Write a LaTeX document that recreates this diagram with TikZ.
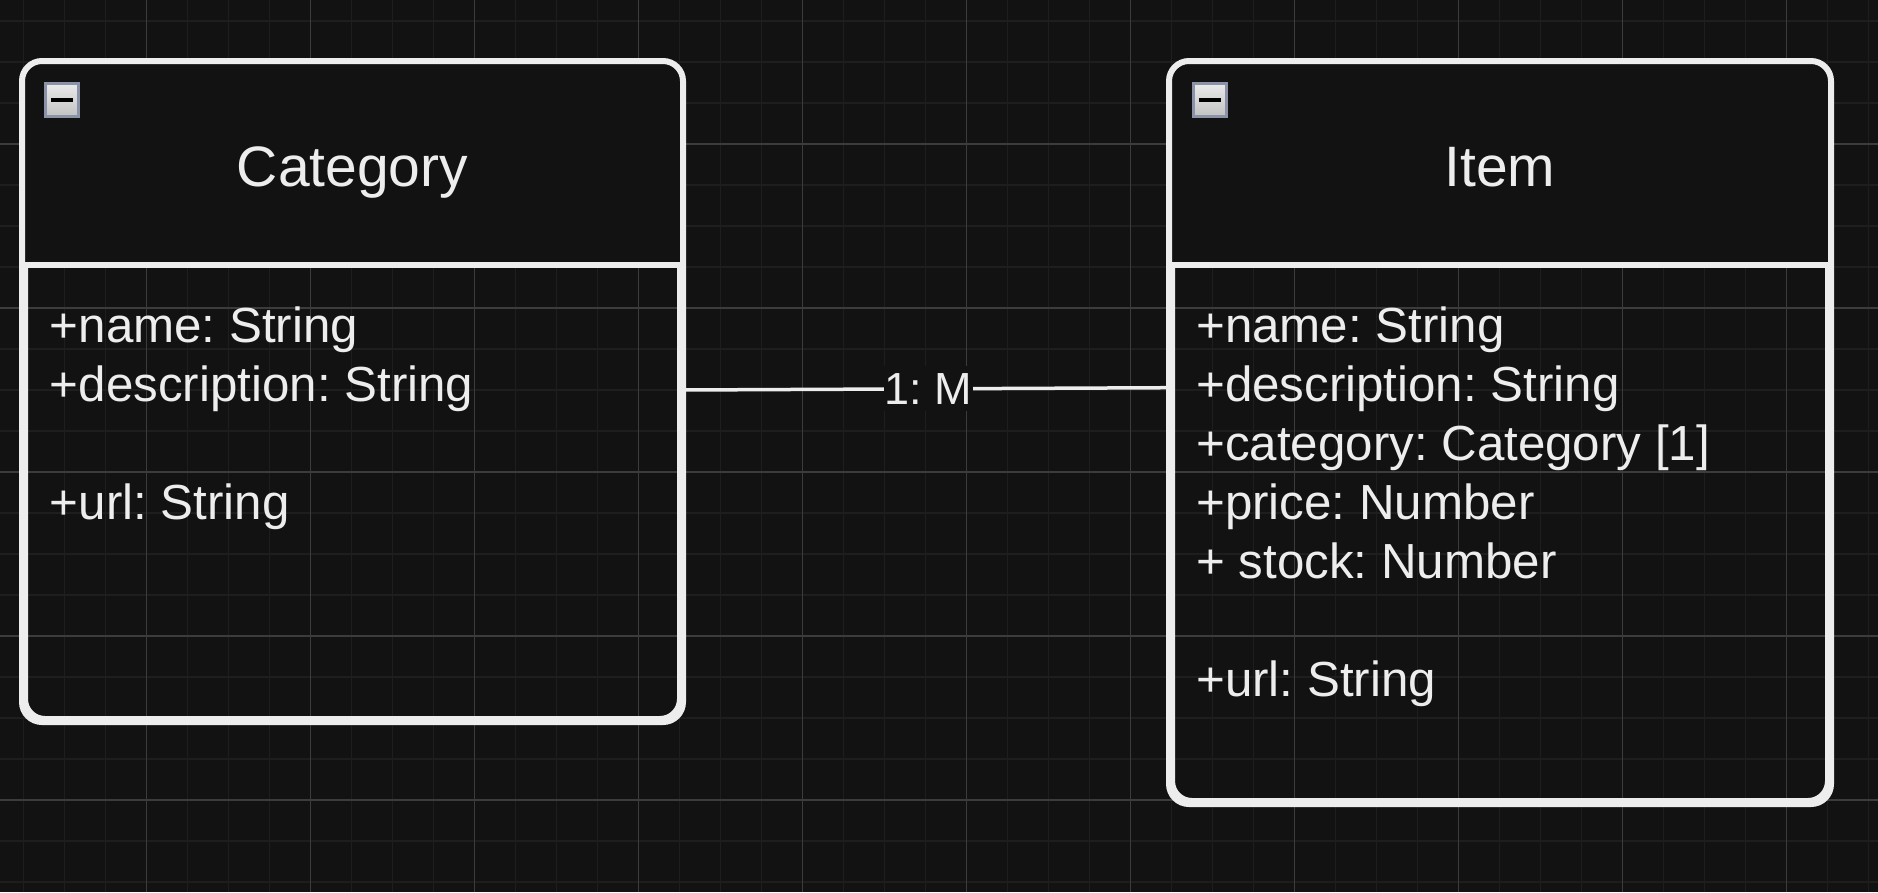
\documentclass[tikz,border=0pt]{standalone}
\usepackage{fontspec}
\setmainfont{Liberation Sans}
\frenchspacing
\definecolor{bg}{HTML}{121212}
\definecolor{minorc}{HTML}{1E1E1E}
\definecolor{majorc}{HTML}{3C3C3C}
\definecolor{ink}{HTML}{EDEDED}
\definecolor{iconborder}{HTML}{8A93A8}
\definecolor{iconhi}{HTML}{EAEAEA}
\definecolor{iconlo}{HTML}{C2C2C2}
\begin{document}
\frenchspacing
\begin{tikzpicture}[x=1pt,y=-1pt,
  gridminor/.style={draw=minorc, line width=1.6pt},
  gridmajor/.style={draw=majorc, line width=1.1pt},
  classbox/.style={draw=ink, line width=6pt, rounded corners=20pt, inner sep=0pt},
  headfill/.style={fill=bg},
  sepline/.style={draw=ink, line width=6pt},
  ttl/.style={text=ink, font=\fontsize{57pt}{68pt}\selectfont, anchor=base, inner sep=0pt},
  attr/.style={text=ink, font=\fontsize{49.3pt}{58pt}\selectfont, anchor=base west, inner sep=0pt},
  iconbox/.style={draw=iconborder, line width=3pt, top color=iconhi, bottom color=iconlo, minimum size=33pt, inner sep=0pt, text=black},
  conn/.style={draw=ink, line width=3.5pt},
  conlabel/.style={fill=bg, text=ink, font=\fontsize{45pt}{54pt}\selectfont, inner xsep=1pt, inner ysep=7pt}
]
\useasboundingbox (0,0) rectangle (1878,892);
\fill[bg] (0,0) rectangle (1878,892);
% grid
\foreach \i in {0,...,45} \draw[gridminor] ({23.5+41*\i},0) -- ({23.5+41*\i},892);
\foreach \j in {0,...,21} \draw[gridminor] (0,{21+41*\j}) -- (1878,{21+41*\j});
\foreach \i in {0,...,11} \draw[gridmajor] ({-17.5+164*\i},0) -- ({-17.5+164*\i},892);
\foreach \j in {0,...,5} \draw[gridmajor] (0,{-20+164*\j}) -- (1878,{-20+164*\j});

% class boxes
\node[classbox, minimum width=655pt, minimum height=655pt] (cat) at (352.5,391.5) {};
\node[classbox, minimum width=656pt, minimum height=737pt] (item) at (1500,432.5) {};

% header fills
\fill[headfill, rounded corners=20pt] (cat.north west) rectangle ([yshift=-204pt]cat.north east);
\fill[headfill] ([yshift=-180pt]cat.north west) rectangle ([yshift=-204pt]cat.north east);
\fill[headfill, rounded corners=20pt] (item.north west) rectangle ([yshift=-204pt]item.north east);
\fill[headfill] ([yshift=-180pt]item.north west) rectangle ([yshift=-204pt]item.north east);

% outlines again on top
\draw[classbox] (cat.north west) rectangle (cat.south east);
\draw[classbox] (item.north west) rectangle (item.south east);
\draw[sepline] ([yshift=-204pt]cat.north west) -- ([yshift=-204pt]cat.north east);
\draw[sepline] ([yshift=-204pt]item.north west) -- ([yshift=-204pt]item.north east);

% titles
\node[ttl] (cattitle) at (352.5,186.5) {Category};
\node[ttl] (itemtitle) at (1500,186.5) {Item};

% icons
\node[iconbox] (caticon) at (62,100) {\rule{22pt}{4pt}};
\node[iconbox] (itemicon) at (1210,100) {\rule{22pt}{4pt}};

% attributes
\node[attr] (ca1) at (49.7,342) {+name: String};
\node[attr] (ca2) at (49.7,401) {+description: String};
\node[attr] (ca3) at (49.7,519) {+url: String};

\node[attr] (ia1) at (1196,342) {+name: String};
\node[attr] (ia2) at (1196,401) {+description: String};
\node[attr] (ia3) at (1196,460) {+category: Category [1]};
\node[attr] (ia4) at (1196,519) {+price: Number};
\node[attr] (ia5) at (1196,578) {+ stock: Number};
\node[attr] (ia6) at (1196,696) {+url: String};

% connector
\draw[conn] ([yshift=1.5pt]cat.east) -- node[conlabel, pos=0.505] (lbl) {1: M} ([yshift=44.8pt]item.west);
\end{tikzpicture}
\end{document}
